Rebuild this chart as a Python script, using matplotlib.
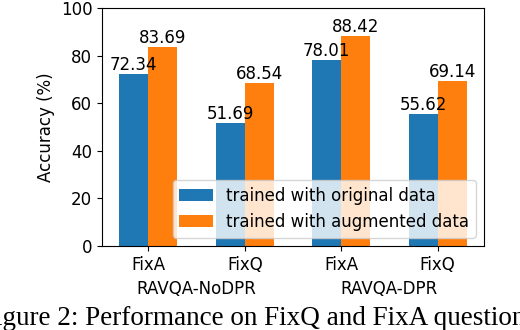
import matplotlib
matplotlib.use("Agg")
import matplotlib.pyplot as plt
import numpy as np

groups = ["RAVQA-NoDPR", "RAVQA-DPR"]
tick_labels = ["FixA", "FixQ", "FixA", "FixQ"]
original = [72.34, 51.69, 78.01, 55.62]
augmented = [83.69, 68.54, 88.42, 69.14]
series_names = ["trained with original data", "trained with augmented data"]

plt.rcParams['font.size'] = 12
fig = plt.figure(figsize=(5.2, 3.3), dpi=100)
ax = fig.add_axes([102/520, 1-246/330, (484-102)/520, (246-8)/330])

x = np.arange(len(tick_labels))
w = 0.3
b1 = ax.bar(x - w/2, original, w, color="#1f77b4", label=series_names[0])
b2 = ax.bar(x + w/2, augmented, w, color="#ff7f0e", label=series_names[1])
ax.bar_label(b1, labels=[f"{v:.2f}" for v in original], fontsize=12)
ax.bar_label(b2, labels=[f"{v:.2f}" for v in augmented], fontsize=12)

ax.set_ylim(0, 100)
ax.set_xticks(x)
ax.set_xticklabels(tick_labels)
ax.set_ylabel("Accuracy (%)")
for i, g in enumerate(groups):
    ax.text(2*i + 0.5, -0.143, g, transform=ax.get_xaxis_transform(),
            ha="center", va="top", fontsize=12)
ax.legend(loc="lower right", fontsize=12)

fig.text(-0.038, 0.015, "Figure 2: Performance on FixQ and FixA questions",
         family="Liberation Serif", fontsize=19.5, ha="left", va="baseline")

fig.savefig("out.png", dpi=100)
